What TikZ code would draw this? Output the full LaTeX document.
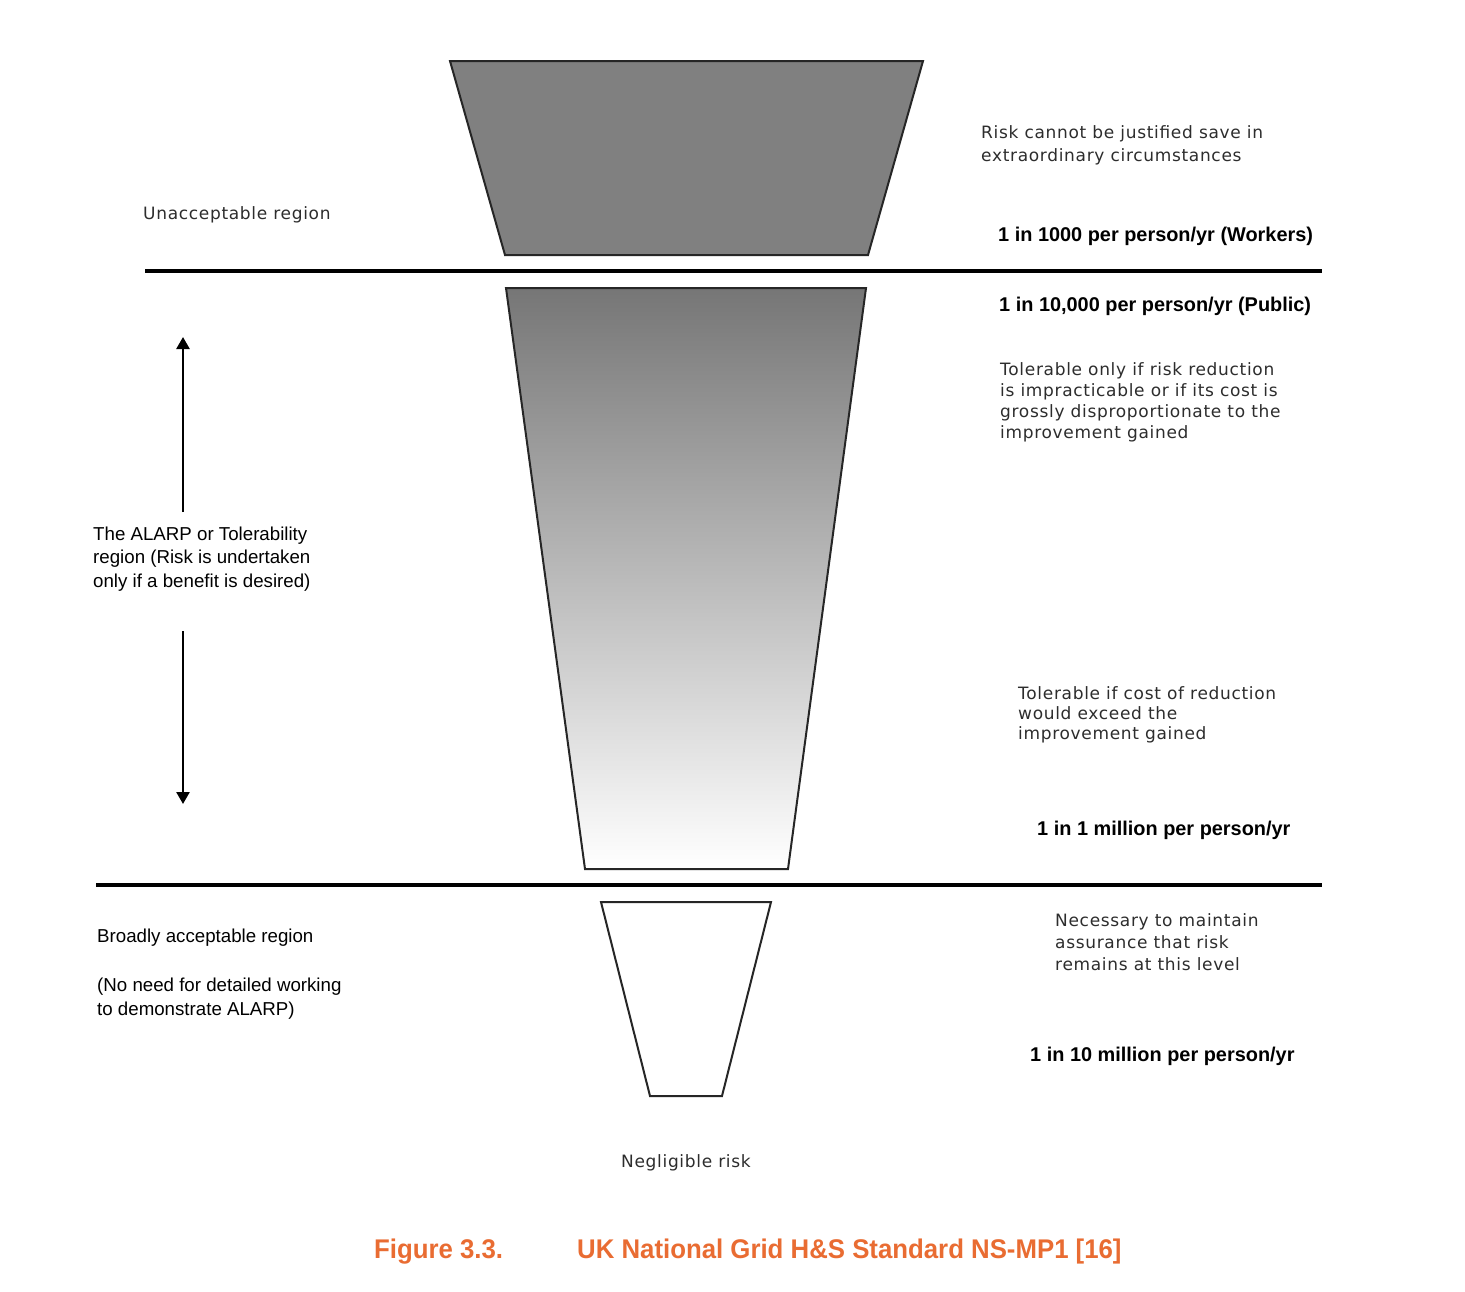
\documentclass[tikz,border=0pt]{standalone}
\usepackage{fontspec}
\usepackage{graphicx}
\setmainfont{Liberation Sans}
\newfontfamily\grayfont[LetterSpace=4]{DejaVu Sans}
\usetikzlibrary{arrows.meta}
\definecolor{capor}{RGB}{233,108,50}
\definecolor{topgray}{RGB}{118,118,118}
\definecolor{midgray}{RGB}{128,128,128}
\definecolor{txtgray}{RGB}{45,45,45}
\tikzset{
  graytxt/.style={anchor=west, inner sep=0pt, align=left, text=txtgray, font=\grayfont\fontsize{17}{21}\selectfont},
  plaintxt/.style={anchor=west, inner sep=0pt, align=left, font=\fontsize{18.7}{23.5}\selectfont},
  boldtxt/.style={anchor=west, inner sep=0pt, font=\bfseries\fontsize{19.9}{24}\selectfont},
  captxt/.style={anchor=west, inner sep=0pt, text=capor, font=\bfseries\fontsize{27}{30}\selectfont},
  funnel/.style={draw=black!85, line width=2pt, line join=miter},
  divider/.style={line width=3.8pt},
  alarparrow/.style={line width=2.5pt, -{Triangle[width=13pt,length=12pt]}},
}
\begin{document}
\begin{tikzpicture}[x=1pt,y=-1pt]
\useasboundingbox (0,0) rectangle (1465,1291);
\fill[white] (0,0) rectangle (1465,1291);

% funnels
\filldraw[funnel, fill=midgray] (450,61) -- (923,61) -- (868,255) -- (505,255) -- cycle;
\shade[top color=topgray, bottom color=white] (506,288) -- (866,288) -- (788,869) -- (585,869) -- cycle;
\draw[funnel] (506,288) -- (866,288) -- (788,869) -- (585,869) -- cycle;
\filldraw[funnel, fill=white] (601,902) -- (771,902) -- (722,1096) -- (650,1096) -- cycle;

% dividers
\coordinate (l1a) at (145,271);
\coordinate (l1b) at (1322,271);
\coordinate (l2a) at (96,885);
\coordinate (l2b) at (1322,885);
\draw[divider] (l1a) -- (l1b);
\draw[divider] (l2a) -- (l2b);

% texts right
\node[graytxt, font=\grayfont\fontsize{17}{23}\selectfont] (risk) at (981,145.5) {Risk cannot be justified save in\\extraordinary circumstances};
\node[boldtxt] (w1000) at (998,236) {1 in 1000 per person/yr (Workers)};
\node[boldtxt] (p10000) at (999,306) {1 in 10,000 per person/yr (Public)};
\node[graytxt] (tol1) at (1000,402) {Tolerable only if risk reduction\\is impracticable or if its cost is\\grossly disproportionate to the\\improvement gained};
\node[graytxt, font=\grayfont\fontsize{17}{20}\selectfont] (tol2) at (1018,715) {Tolerable if cost of reduction\\would exceed the\\improvement gained};
\node[boldtxt] (m1) at (1037,830) {1 in 1 million per person/yr};
\node[graytxt, font=\grayfont\fontsize{17}{22}\selectfont] (nec) at (1055,942) {Necessary to maintain\\assurance that risk\\remains at this level};
\node[boldtxt] (m10) at (1030,1056) {1 in 10 million per person/yr};

% texts left
\node[graytxt] (unacc) at (143,215) {Unacceptable region};
\node[plaintxt] (alarp) at (93,559) {The ALARP or Tolerability\\region (Risk is undertaken\\only if a benefit is desired)};
\node[plaintxt] (broad) at (97,938) {Broadly acceptable region};
\node[plaintxt, font=\fontsize{18.7}{24}\selectfont] (noneed) at (97,999) {(No need for detailed working\\to demonstrate ALARP)};
\node[graytxt] (negl) at (621,1163) {Negligible risk};

% arrows
\coordinate (as1) at (183,512);
\coordinate (ae1) at (183,337);
\coordinate (as2) at (183,631);
\coordinate (ae2) at (183,804);
\draw[alarparrow] (as1) -- (ae1);
\draw[alarparrow] (as2) -- (ae2);

% caption
\node[captxt] (figno) at (374,1252) {\scalebox{0.955}[1]{Figure 3.3.}};
\node[captxt] (figtitle) at (577,1252) {\scalebox{0.955}[1]{UK National Grid H\&S Standard NS-MP1 [16]}};
\end{tikzpicture}
\end{document}
